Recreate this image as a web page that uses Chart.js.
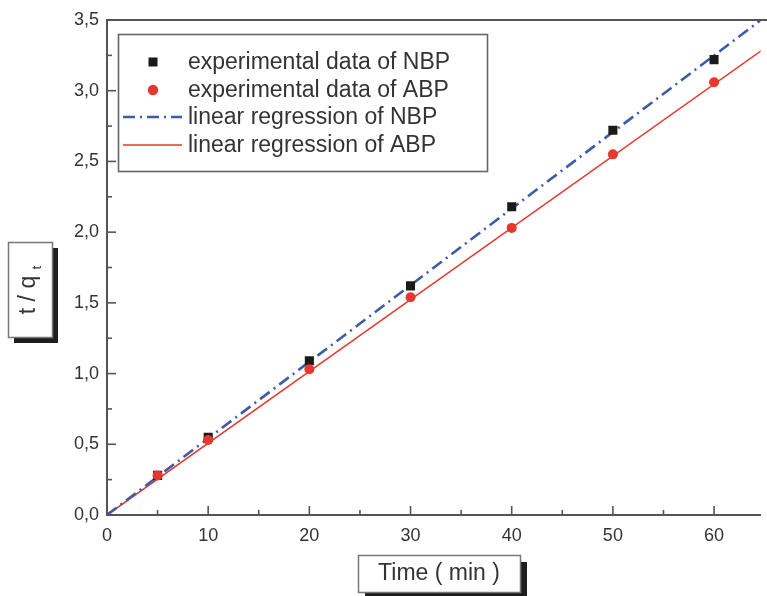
<!DOCTYPE html>
<html><head><meta charset="utf-8">
<script src="https://cdn.jsdelivr.net/npm/chart.js@4/dist/chart.umd.min.js"></script>
<style>html,body{margin:0;padding:0;background:#fff;overflow:hidden}</style>
</head><body>
<canvas id="c" width="767" height="596"></canvas>
<script>
// ---- data ----
const timeMin = [5, 10, 20, 30, 40, 50, 60];
const nbpExp  = [0.28, 0.55, 1.09, 1.62, 2.18, 2.72, 3.22];
const abpExp  = [0.28, 0.53, 1.03, 1.54, 2.03, 2.55, 3.06];
const regTime = [0, 65];
const nbpReg  = [0, 3.52];
const abpReg  = [0, 3.30];
const xMajorTicks = [0, 10, 20, 30, 40, 50, 60];
const xMinorTicks = [5, 15, 25, 35, 45, 55];
const yMajorTicks = [0, 0.5, 1.0, 1.5, 2.0, 2.5, 3.0, 3.5];
const yMinorTicks = [0.25, 0.75, 1.25, 1.75, 2.25, 2.75, 3.25];
const seriesLabels = ['experimental data of NBP', 'experimental data of ABP', 'linear regression of NBP', 'linear regression of ABP'];
const xTitle = 'Time ( min )';
const yTitleMain = 't / q';
const yTitleSub = 't';

const FONT = "'Liberation Sans', Arial, Helvetica, sans-serif";
const AXIS = '#555';
const TXT = '#333';
const BLUE = '#3d5ca6';
const RED = '#e5392f';

const pts = (xs, ys) => xs.map((x, i) => ({x, y: ys[i]}));

const decor = {
  id: 'decor',
  afterDraw(chart) {
    const ctx = chart.ctx, a = chart.chartArea, xs = chart.scales.x, ys = chart.scales.y;
    ctx.save();
    // top frame line
    ctx.strokeStyle = AXIS; ctx.lineWidth = 2;
    ctx.beginPath(); ctx.moveTo(a.left - 1, a.top); ctx.lineTo(chart.width, a.top); ctx.stroke();
    // inward tick marks
    ctx.lineWidth = 1.6;
    const tick = (x1, y1, x2, y2) => { ctx.beginPath(); ctx.moveTo(x1, y1); ctx.lineTo(x2, y2); ctx.stroke(); };
    xMajorTicks.forEach(v => { const p = xs.getPixelForValue(v); tick(p, a.bottom, p, a.bottom - 9); });
    xMinorTicks.forEach(v => { const p = xs.getPixelForValue(v); tick(p, a.bottom, p, a.bottom - 5); });
    yMajorTicks.forEach(v => { const p = ys.getPixelForValue(v); tick(a.left, p, a.left + 9, p); });
    yMinorTicks.forEach(v => { const p = ys.getPixelForValue(v); tick(a.left, p, a.left + 5, p); });

    // legend
    const L = {x: 118, y: 34, w: 369, h: 137};
    ctx.fillStyle = '#fff';
    ctx.fillRect(L.x, L.y, L.w, L.h);
    ctx.strokeStyle = '#666'; ctx.lineWidth = 1.6;
    ctx.strokeRect(L.x + 0.5, L.y + 0.5, L.w, L.h);
    const rowsY = [62, 90, 117, 145];
    const mx = 153;
    ctx.font = '23px ' + FONT; ctx.fillStyle = TXT; ctx.textBaseline = 'middle'; ctx.textAlign = 'left';
    chart.data.datasets.forEach((ds, i) => {
      const y = rowsY[i];
      if (i === 0) { ctx.fillStyle = '#1a1a1a'; ctx.fillRect(mx - 4.5, y - 4.5, 9, 9); }
      else if (i === 1) { ctx.fillStyle = RED; ctx.beginPath(); ctx.arc(mx, y, 5.2, 0, Math.PI * 2); ctx.fill(); }
      else {
        ctx.strokeStyle = ds.borderColor; ctx.lineWidth = ds.borderWidth;
        ctx.setLineDash(ds.borderDash || []);
        ctx.beginPath(); ctx.moveTo(123, y); ctx.lineTo(182, y); ctx.stroke();
        ctx.setLineDash([]);
      }
      ctx.fillStyle = TXT;
      ctx.fillText(ds.label, 188, y + 1);
    });

    // title boxes with shadow
    const box = (x, y, w, h, sh) => {
      ctx.fillStyle = '#1e1e1e';
      ctx.fillRect(x + sh, y + sh, w, h);
      ctx.fillStyle = '#fff';
      ctx.fillRect(x, y, w, h);
      ctx.strokeStyle = '#777'; ctx.lineWidth = 1.5;
      ctx.strokeRect(x + 0.5, y + 0.5, w, h);
    };
    // x title
    box(358, 555, 162, 37, 7);
    ctx.fillStyle = TXT; ctx.font = '23px ' + FONT; ctx.textAlign = 'center'; ctx.textBaseline = 'middle';
    ctx.fillText(xTitle, 439, 574);
    // y title
    box(8, 242, 44, 95, 6);
    ctx.save();
    ctx.translate(30, 290);
    ctx.rotate(-Math.PI / 2);
    ctx.font = '23px ' + FONT; ctx.textAlign = 'left'; ctx.textBaseline = 'middle';
    const mw = ctx.measureText(yTitleMain + ' ').width;
    ctx.font = '13px ' + FONT;
    const sw = ctx.measureText(yTitleSub).width;
    const start = -(mw + sw) / 2;
    ctx.font = '23px ' + FONT; ctx.fillStyle = TXT;
    ctx.fillText(yTitleMain, start, -1);
    ctx.font = '13px ' + FONT;
    ctx.fillText(yTitleSub, start + mw, 7);
    ctx.restore();
    ctx.restore();
  }
};

new Chart(document.getElementById('c'), {
  type: 'scatter',
  data: {
    datasets: [
      {label: seriesLabels[0], data: pts(timeMin, nbpExp), pointStyle: 'rect', pointRadius: 6.4, pointHoverRadius: 6.4,
       backgroundColor: '#1a1a1a', borderColor: '#1a1a1a', borderWidth: 0, showLine: false, order: 1},
      {label: seriesLabels[1], data: pts(timeMin, abpExp), pointStyle: 'circle', pointRadius: 5, pointHoverRadius: 5,
       backgroundColor: RED, borderColor: RED, borderWidth: 0, showLine: false, order: 0},
      {label: seriesLabels[2], data: pts(regTime, nbpReg), showLine: true, pointRadius: 0, borderColor: BLUE,
       borderWidth: 2.6, borderDash: [12, 5, 2, 5], fill: false, order: 2},
      {label: seriesLabels[3], data: pts(regTime, abpReg), showLine: true, pointRadius: 0, borderColor: RED,
       borderWidth: 1.6, fill: false, order: 3}
    ]
  },
  options: {
    responsive: false,
    devicePixelRatio: 1,
    animation: false,
    events: [],
    layout: {padding: {top: 20, right: 0, left: 0, bottom: 0}},
    plugins: {legend: {display: false}, tooltip: {enabled: false}},
    scales: {
      x: {
        type: 'linear', min: 0, max: 64.6,
        afterFit: s => { s.height = 81; s.paddingLeft = 0; s.paddingRight = 0; },
        afterBuildTicks: s => { s.ticks = xMajorTicks.map(v => ({value: v})); },
        grid: {display: false, drawTicks: false},
        border: {display: true, color: AXIS, width: 2},
        ticks: {includeBounds: false, stepSize: 10, padding: 10, color: TXT, font: {family: FONT, size: 18},
                maxRotation: 0, autoSkip: false, callback: v => String(v)}
      },
      y: {
        type: 'linear', min: 0, max: 3.5,
        afterFit: s => { s.width = 107; s.paddingTop = 0; s.paddingBottom = 0; },
        afterBuildTicks: s => { s.ticks = yMajorTicks.map(v => ({value: v})); },
        grid: {display: false, drawTicks: false},
        border: {display: true, color: AXIS, width: 2},
        ticks: {includeBounds: false, stepSize: 0.5, padding: 8, color: TXT, font: {family: FONT, size: 18},
                autoSkip: false, callback: v => Number(v).toFixed(1).replace('.', ',')}
      }
    }
  },
  plugins: [decor]
});
</script>
</body></html>
